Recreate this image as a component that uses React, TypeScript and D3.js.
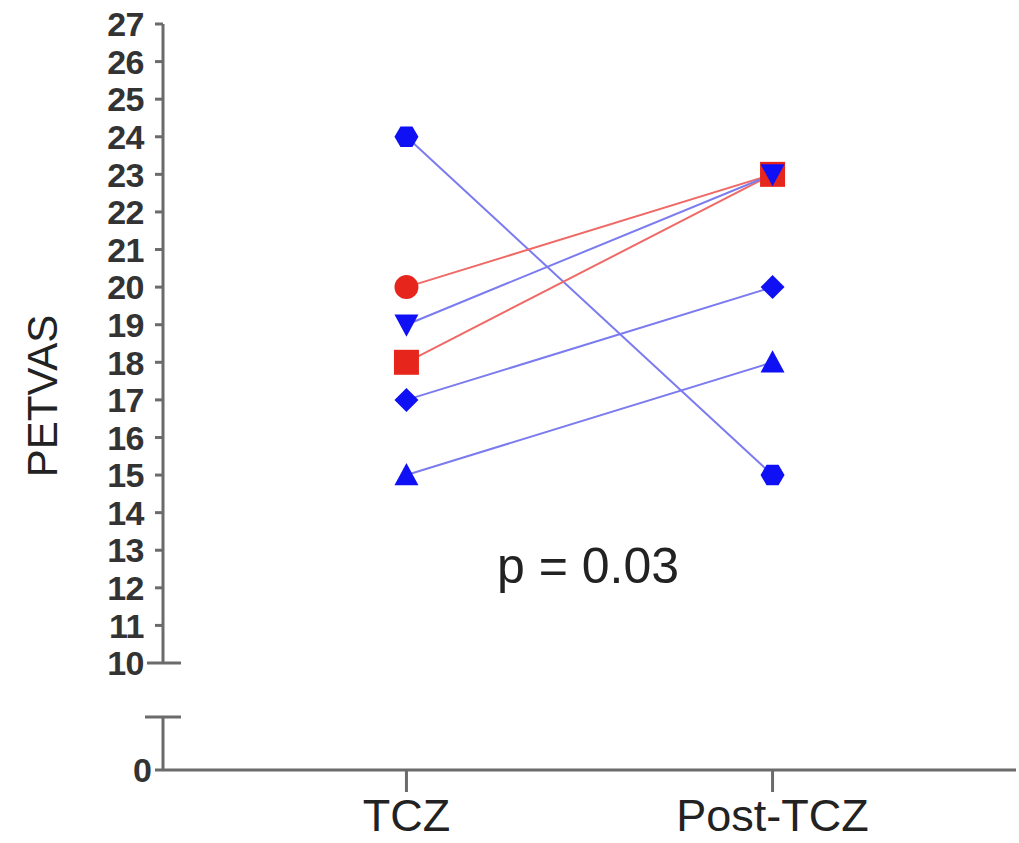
import * as d3 from 'd3';

const timepoints = ['TCZ', 'Post-TCZ'];
const patients = ['P1', 'P2', 'P3', 'P4', 'P5', 'P6'];
const tczValues = [24, 20, 19, 18, 17, 15];
const postValues = [15, 23, 23, 23, 20, 18];
const shapes = ['hexagon', 'circle', 'triangleDown', 'square', 'diamond', 'triangle'];
const groups = ['blue', 'red', 'blue', 'red', 'blue', 'blue'];
const yTicks = d3.range(10, 28);
const pText = 'p = 0.03';

const W = 1019;
const H = 843;
const axisX = 163;
const axisColor = '#6b6b6b';
const labelColor = '#333';
const markColor = { blue: '#1010f5', red: '#e6261c' };
const lineColor = { blue: '#7b7bf0', red: '#ef6a66' };

const symbolPath = (shape: string, r: number) => {
  switch (shape) {
    case 'hexagon':
      return `M${-r},0 L${-r / 2},${-r * 0.85} L${r / 2},${-r * 0.85} L${r},0 L${r / 2},${r * 0.85} L${-r / 2},${r * 0.85}Z`;
    case 'circle':
      return d3.symbol(d3.symbolCircle, Math.PI * r * r)()!;
    case 'square':
      return `M${-r},${-r} H${r} V${r} H${-r}Z`;
    case 'diamond':
      return `M0,${-r} L${r},0 L0,${r} L${-r},0Z`;
    case 'triangle':
      return `M0,${-r} L${r},${r * 0.85} L${-r},${r * 0.85}Z`;
    case 'triangleDown':
      return `M${-r},${-r * 0.85} L${r},${-r * 0.85} L0,${r}Z`;
  }
  return '';
};

export default function App() {
  const x = d3.scalePoint<string>().domain(timepoints).range([axisX, 1016]).padding(0.665);
  const y = d3.scaleLinear().domain([10, 27]).range([663, 24]);
  const yZero = 770;
  const breakTop = 717;

  const rows = patients.map((p, i) => ({
    id: p,
    values: [tczValues[i], postValues[i]],
    shape: shapes[i],
    group: groups[i],
  }));
  // draw red on top of blue at the shared 23 point: square under triangle
  const order = [0, 4, 5, 1, 3, 2];
  const line = d3
    .line<number>()
    .x((_, j) => x(timepoints[j])!)
    .y((v) => y(v));

  return (
    <svg
      width={W}
      height={H}
      style={{ position: 'fixed', left: 0, top: 0, background: '#fff' }}
      fontFamily="'Liberation Sans', Arial, sans-serif"
    >
      {/* y axis upper segment */}
      <line x1={axisX} x2={axisX} y1={y(27)} y2={y(10)} stroke={axisColor} strokeWidth={3} />
      {yTicks.map((t) => (
        <g key={t}>
          <line
            x1={t === 10 ? 147 : 155}
            x2={t === 10 ? 181 : axisX}
            y1={y(t)}
            y2={y(t)}
            stroke={axisColor}
            strokeWidth={3}
          />
          <text
            x={144}
            y={y(t)}
            dy="0.36em"
            textAnchor="end"
            fontSize={34}
            fontWeight={700}
            fill={labelColor}
            letterSpacing={-0.5}
          >
            {t}
          </text>
        </g>
      ))}
      {/* y axis lower segment after break */}
      <line x1={axisX} x2={axisX} y1={breakTop} y2={yZero} stroke={axisColor} strokeWidth={3} />
      <line x1={145} x2={181} y1={breakTop} y2={breakTop} stroke={axisColor} strokeWidth={3} />
      <line x1={155} x2={axisX} y1={yZero} y2={yZero} stroke={axisColor} strokeWidth={3} />
      <text x={152} y={yZero} dy="0.36em" textAnchor="end" fontSize={34} fontWeight={700} fill={labelColor}>
        0
      </text>

      {/* x axis */}
      <line x1={axisX} x2={1016} y1={yZero} y2={yZero} stroke={axisColor} strokeWidth={3} />
      {timepoints.map((t) => (
        <g key={t}>
          <line x1={x(t)} x2={x(t)} y1={yZero} y2={792} stroke={axisColor} strokeWidth={3} />
          <text x={x(t)} y={831} textAnchor="middle" fontSize={45} fill="#222">
            {t}
          </text>
        </g>
      ))}

      {/* y label */}
      <text
        transform={`translate(57,396) rotate(-90)`}
        textAnchor="middle"
        fontSize={42}
        fill="#222"
      >
        PETVAS
      </text>

      {/* lines */}
      {order.map((i) => (
        <path
          key={'l' + i}
          d={line(rows[i].values)!}
          fill="none"
          stroke={lineColor[rows[i].group as 'blue' | 'red']}
          strokeWidth={2}
        />
      ))}

      {/* markers */}
      {order.map((i) =>
        rows[i].values.map((v, j) => (
          <path
            key={`m${i}-${j}`}
            transform={`translate(${x(timepoints[j])},${y(v)})`}
            d={symbolPath(rows[i].shape, rows[i].shape === 'square' ? 12.5 : 12)}
            fill={markColor[rows[i].group as 'blue' | 'red']}
          />
        ))
      )}

      <text x={588} y={583} textAnchor="middle" fontSize={50} fill="#222">
        {pText}
      </text>
    </svg>
  );
}
